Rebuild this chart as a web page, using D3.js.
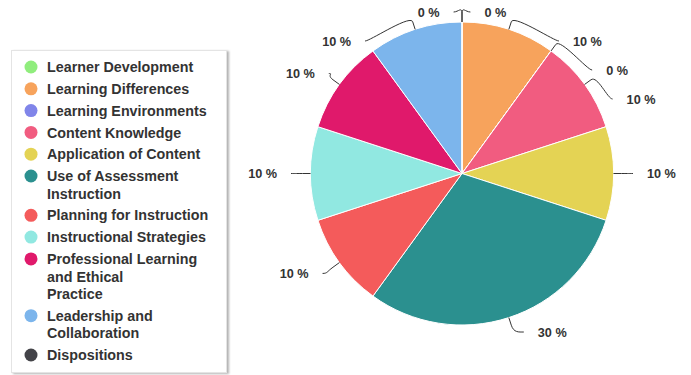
<!DOCTYPE html>
<html>
<head>
<meta charset="utf-8">
<script src="https://cdn.jsdelivr.net/npm/d3@7"></script>
<style>
  body { margin: 0; background: #fff; }
  svg { font-family: "Liberation Sans", Arial, sans-serif; }
</style>
</head>
<body>
<svg id="chart" width="691" height="375"></svg>
<script>
// data
const categories = ["Learner Development", "Learning Differences", "Learning Environments",
  "Content Knowledge", "Application of Content", "Use of Assessment Instruction",
  "Planning for Instruction", "Instructional Strategies",
  "Professional Learning and Ethical Practice", "Leadership and Collaboration", "Dispositions"];
const values = [0, 10, 0, 10, 10, 30, 10, 10, 10, 10, 0];
const colors = ["#90ed7d", "#f7a35c", "#8085e9", "#f15c80", "#e4d354", "#2b908f",
  "#f45b5b", "#91e8e1", "#e0196b", "#7cb5ec", "#434348"];
// legend text as it is wrapped in the picture
const legendLines = [["Learner Development"], ["Learning Differences"], ["Learning Environments"],
  ["Content Knowledge"], ["Application of Content"], ["Use of Assessment", "Instruction"],
  ["Planning for Instruction"], ["Instructional Strategies"],
  ["Professional Learning", "and Ethical", "Practice"], ["Leadership and", "Collaboration"], ["Dispositions"]];

const svg = d3.select("#chart");
const W = 691, H = 375;

// ---- legend
const defs = svg.append("defs");
const f = defs.append("filter").attr("id", "shadow").attr("x", "-10%").attr("y", "-10%")
  .attr("width", "130%").attr("height", "130%");
f.append("feDropShadow").attr("dx", 2).attr("dy", 1).attr("stdDeviation", 1.3)
  .attr("flood-color", "#000").attr("flood-opacity", 0.3);

const legend = svg.append("g");
legend.append("rect")
  .attr("x", 11.5).attr("y", 50.5).attr("width", 215).attr("height", 322)
  .attr("fill", "#fff").attr("stroke", "#e4e4e4").attr("filter", "url(#shadow)");

let ly = 67;
const lineH = 17.5, step = 21.8;
categories.forEach((c, i) => {
  const g = legend.append("g").attr("transform", `translate(0,${ly})`);
  g.append("circle").attr("cx", 31).attr("cy", 0).attr("r", 6.5).attr("fill", colors[i]);
  const t = g.append("text")
    .attr("font-size", 14.3).attr("font-weight", "bold").attr("fill", "#333");
  legendLines[i].forEach((ln, j) => {
    t.append("tspan").attr("x", 47).attr("y", j * lineH).attr("dy", "0.36em").text(ln);
  });
  ly += (legendLines[i].length - 1) * lineH + step;
});

// ---- pie
const cx = 462, cy = 173.5, r = 151.5;
const pie = d3.pie().sort(null).value(d => d).startAngle(0).endAngle(2 * Math.PI);
const arcs = pie(values);
const arc = d3.arc().innerRadius(0).outerRadius(r);

const g = svg.append("g").attr("transform", `translate(${cx},${cy})`);
g.selectAll("path.slice").data(arcs).join("path")
  .attr("class", "slice")
  .attr("d", arc)
  .attr("fill", (d, i) => colors[i])
  .attr("stroke", "#fff").attr("stroke-width", 1);

// ---- data labels, spread out on each side like the original
const labR = 170, gap = 29, topY = 12, botY = 332;
const labels = arcs.map((d, i) => {
  const mid = (d.startAngle + d.endAngle) / 2;
  return { i, mid, right: mid < Math.PI, ideal: cy - labR * Math.cos(mid) };
});
[true, false].forEach(side => {
  const s = labels.filter(l => l.right === side).sort((a, b) => a.ideal - b.ideal);
  let prev = -Infinity;
  s.forEach(l => { l.y = Math.max(l.ideal, topY, prev + gap); prev = l.y; });
  let next = Infinity;
  for (let k = s.length - 1; k >= 0; k--) {
    s[k].y = Math.min(s[k].y, botY, next - gap); next = s[k].y;
  }
});

const ex = 171, ey = 165.7, eoff = 4;
const lab = svg.append("g");
labels.forEach(l => {
  const sgn = l.right ? 1 : -1;
  const q = Math.min(1, Math.abs((l.y - cy - eoff) / ey));
  const x = cx + sgn * ex * Math.sqrt(1 - q * q);
  const tx = cx + r * Math.sin(l.mid), ty = cy - r * Math.cos(l.mid);
  const bx = cx + (r + 8) * Math.sin(l.mid), by = cy - (r + 8) * Math.cos(l.mid);
  const p = d3.path();
  p.moveTo(x, l.y);
  p.bezierCurveTo(x - sgn * 5, l.y, 2 * bx - tx, 2 * by - ty, bx, by);
  p.lineTo(tx, ty);
  lab.append("path").attr("d", p.toString()).attr("fill", "none")
    .attr("stroke", "#333").attr("stroke-width", 1);
  lab.append("text")
    .attr("x", x + sgn * 14).attr("y", l.y).attr("dy", "0.36em")
    .attr("text-anchor", l.right ? "start" : "end")
    .attr("font-size", 12.7).attr("font-weight", "bold").attr("fill", "#333")
    .text(values[l.i] + " %");
});
</script>
</body>
</html>
